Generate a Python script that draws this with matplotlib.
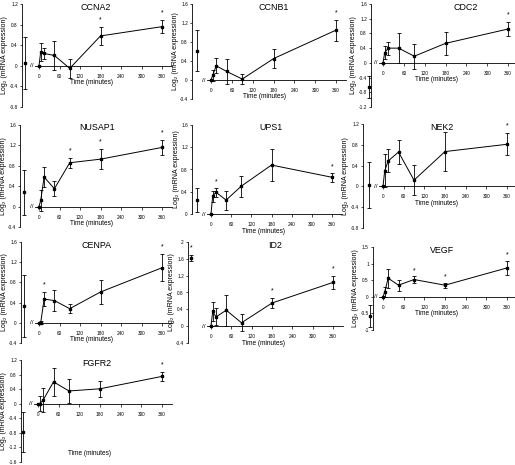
import matplotlib
matplotlib.use("Agg")
import matplotlib.pyplot as plt
import matplotlib.transforms as mtransforms

plt.rcParams['font.family'] = ['Liberation Sans', 'DejaVu Sans']

W, H = 515, 465

# ------------------------------
# Datos
# ------------------------------
times = [0, 5, 15, 45, 90, 180, 360]
genes = ["CCNA2", "CCNB1", "CDC2", "NUSAP1", "UPS1", "NEK2", "CENPA", "ID2", "VEGF", "FGFR2"]

ccna2_mean = [0, 0.27, 0.24, 0.20, -0.05, 0.58, 0.76]
ccna2_err = [0, 0.18, 0.10, 0.28, 0.19, 0.18, 0.12]
ccnb1_mean = [0, 0.10, 0.30, 0.18, 0.02, 0.45, 1.05]
ccnb1_err = [0, 0.12, 0.16, 0.26, 0.10, 0.20, 0.22]
cdc2_mean = [0, 0.28, 0.40, 0.40, 0.18, 0.53, 0.92]
cdc2_err = [0, 0.18, 0.18, 0.40, 0.34, 0.32, 0.18]
nusap1_mean = [0, 0.12, 0.58, 0.35, 0.86, 0.93, 1.16]
nusap1_err = [0, 0.20, 0.20, 0.15, 0.10, 0.19, 0.15]
ups1_mean = [0, 0.32, 0.39, 0.25, 0.50, 0.88, 0.66]
ups1_err = [0, 0.10, 0.08, 0.17, 0.19, 0.28, 0.08]
nek2_mean = [0, 0.30, 0.49, 0.66, 0.12, 0.67, 0.81]
nek2_err = [0, 0.32, 0.22, 0.23, 0.29, 0.37, 0.21]
cenpa_mean = [0, 0.0, 0.47, 0.44, 0.28, 0.61, 1.09]
cenpa_err = [0, 0.03, 0.14, 0.20, 0.09, 0.23, 0.27]
id2_mean = [0, 0.35, 0.22, 0.38, 0.08, 0.55, 1.04]
id2_err = [0, 0.23, 0.20, 0.37, 0.20, 0.13, 0.16]
vegf_mean = [0, 0.15, 0.56, 0.35, 0.52, 0.35, 0.87]
vegf_err = [0, 0.15, 0.28, 0.17, 0.10, 0.07, 0.22]
fgfr2_mean = [0, 0.0, 0.10, 0.60, 0.35, 0.41, 0.75]
fgfr2_err = [0, 0.21, 0.32, 0.38, 0.32, 0.22, 0.13]

# punto control (a la izquierda del corte)
control_mean = [0.05, 0.62, -0.65, 0.28, 0.25, 0.02, 0.33, 1.63, -0.57, -0.78]
control_err = [0.50, 0.43, 0.30, 0.44, 0.22, 0.44, 0.61, 0.07, 0.33, 0.54]
control_star = [False, False, False, False, False, False, False, True, False, False]

# tiempos con asterisco
stars = [[180, 360], [360], [360], [90, 180, 360], [15, 360], [360], [15, 360],
         [180, 360], [90, 180, 360], [360]]

yticks = [
    [-0.8, -0.4, 0, 0.4, 0.8, 1.2],
    [-0.4, 0, 0.4, 0.8, 1.2, 1.6],
    [-1.2, -0.8, -0.4, 0, 0.4, 0.8, 1.2, 1.6],
    [-0.4, 0, 0.4, 0.8, 1.2, 1.6],
    [0, 0.4, 0.8, 1.2, 1.6],
    [-0.8, -0.4, 0, 0.4, 0.8, 1.2],
    [-0.4, 0, 0.4, 0.8, 1.2, 1.6],
    [-0.4, 0, 0.4, 0.8, 1.2, 1.6, 2],
    [-1, -0.5, 0, 0.5, 1, 1.5],
    [-1.6, -1.2, -0.8, -0.4, 0, 0.4, 0.8, 1.2],
]

means = [ccna2_mean, ccnb1_mean, cdc2_mean, nusap1_mean, ups1_mean,
         nek2_mean, cenpa_mean, id2_mean, vegf_mean, fgfr2_mean]
errs = [ccna2_err, ccnb1_err, cdc2_err, nusap1_err, ups1_err,
        nek2_err, cenpa_err, id2_err, vegf_err, fgfr2_err]

# ------------------------------
# Posiciones de los paneles (pixeles): eje y, arriba, abajo, x=0, x=360, control, titulo (min)
# ------------------------------
boxes = [
    (22, 4, 107, 39, 162, 25, 165),
    (192, 4, 99, 211, 336, 197, 180),
    (371, 4, 107, 383, 508, 369, 238),
    (20, 125, 227, 39, 162, 24, 170),
    (192, 125, 214, 211, 332, 197, 180),
    (363, 124, 228, 383, 507, 369, 172),
    (21, 242, 343, 39, 162, 24, 167),
    (188, 242, 343, 211, 333, 191, 188),
    (373, 247, 330, 383, 507, 370, 170),
    (21, 360, 462, 38, 162, 23, 170),
]


def fmt(v):
    return "0" if v == 0 else "%g" % v


def no_clip(c):
    if c.lines[0] is not None:
        c.lines[0].set_clip_on(False)
    for a in c.lines[1]:
        a.set_clip_on(False)
    for a in c.lines[2]:
        a.set_clip_on(False)


fig = plt.figure(figsize=(W / 100, H / 100), dpi=100)

for i, g in enumerate(genes):
    s, top, bot, x0, x360, cx, tx = boxes[i]
    k = (x360 - x0) / 360.0
    xmin = (s - x0) / k
    xmax = 360 + 10 / k
    right = x0 + xmax * k
    ax = fig.add_axes([s / W, 1 - bot / H, (right - s) / W, (bot - top) / H])
    yt = yticks[i]
    ax.set_xlim(xmin, xmax)
    ax.set_ylim(yt[0], yt[-1])
    yrange = yt[-1] - yt[0]
    blend = mtransforms.blended_transform_factory(ax.transData, ax.transAxes)

    for sp in ["top", "right"]:
        ax.spines[sp].set_visible(False)
    ax.spines["left"].set_linewidth(0.6)
    ax.spines["bottom"].set_linewidth(0.6)
    ax.spines["bottom"].set_position(("data", 0))
    ax.spines["bottom"].set_bounds(-4 / k, xmax)

    ax.set_xticks([0, 60, 120, 180, 240, 300, 360])
    ax.set_xticklabels(["0", "60", "120", "180", "240", "300", "360"])
    ax.set_yticks(yt)
    ax.set_yticklabels([fmt(v) for v in yt])
    ax.tick_params(axis="both", labelsize=3.4, length=1.8, width=0.5)
    ax.tick_params(axis="x", pad=4)
    ax.tick_params(axis="y", pad=1.2)

    c = ax.errorbar(times, means[i], yerr=errs[i], fmt="-s", color="k", ms=1.7,
                    lw=0.7, elinewidth=0.6, capsize=1.3, capthick=0.6)
    no_clip(c)
    cxd = (cx - x0) / k
    c = ax.errorbar([cxd], [control_mean[i]], yerr=[control_err[i]], fmt="s",
                    color="k", ms=1.7, elinewidth=0.6, capsize=1.3, capthick=0.6)
    no_clip(c)

    off = 0.07 * yrange
    for t in stars[i]:
        j = times.index(t)
        ax.text(t, means[i][j] + errs[i][j] + off, "*", ha="center", va="center",
                fontsize=5, clip_on=False)
    if control_star[i]:
        ax.text(cxd, control_mean[i] + control_err[i] + off, "*", ha="center",
                va="center", fontsize=5, clip_on=False)

    # marca de corte
    ax.text(-7 / k, 0, "//", ha="center", va="center", fontsize=4.5, clip_on=False)

    ax.annotate(g, xy=(tx, 1.0), xycoords=blend, xytext=(0, -3), textcoords="offset pixels",
                ha="center", va="center", fontsize=6.4, annotation_clip=False)

    if g == "FGFR2":
        ax.text(150, 0.08, "Time (minutes)", ha="center", va="center", fontsize=4.7,
                transform=blend)
    else:
        ax.annotate("Time (minutes)", xy=(155, 0), xycoords="data", xytext=(0, -17),
                    textcoords="offset pixels", ha="center", va="center", fontsize=4.7,
                    annotation_clip=False)

    ax.set_ylabel("Log₂ (mRNA expression)", fontsize=5, labelpad=0.8)

fig.savefig("out.png", dpi=100)
